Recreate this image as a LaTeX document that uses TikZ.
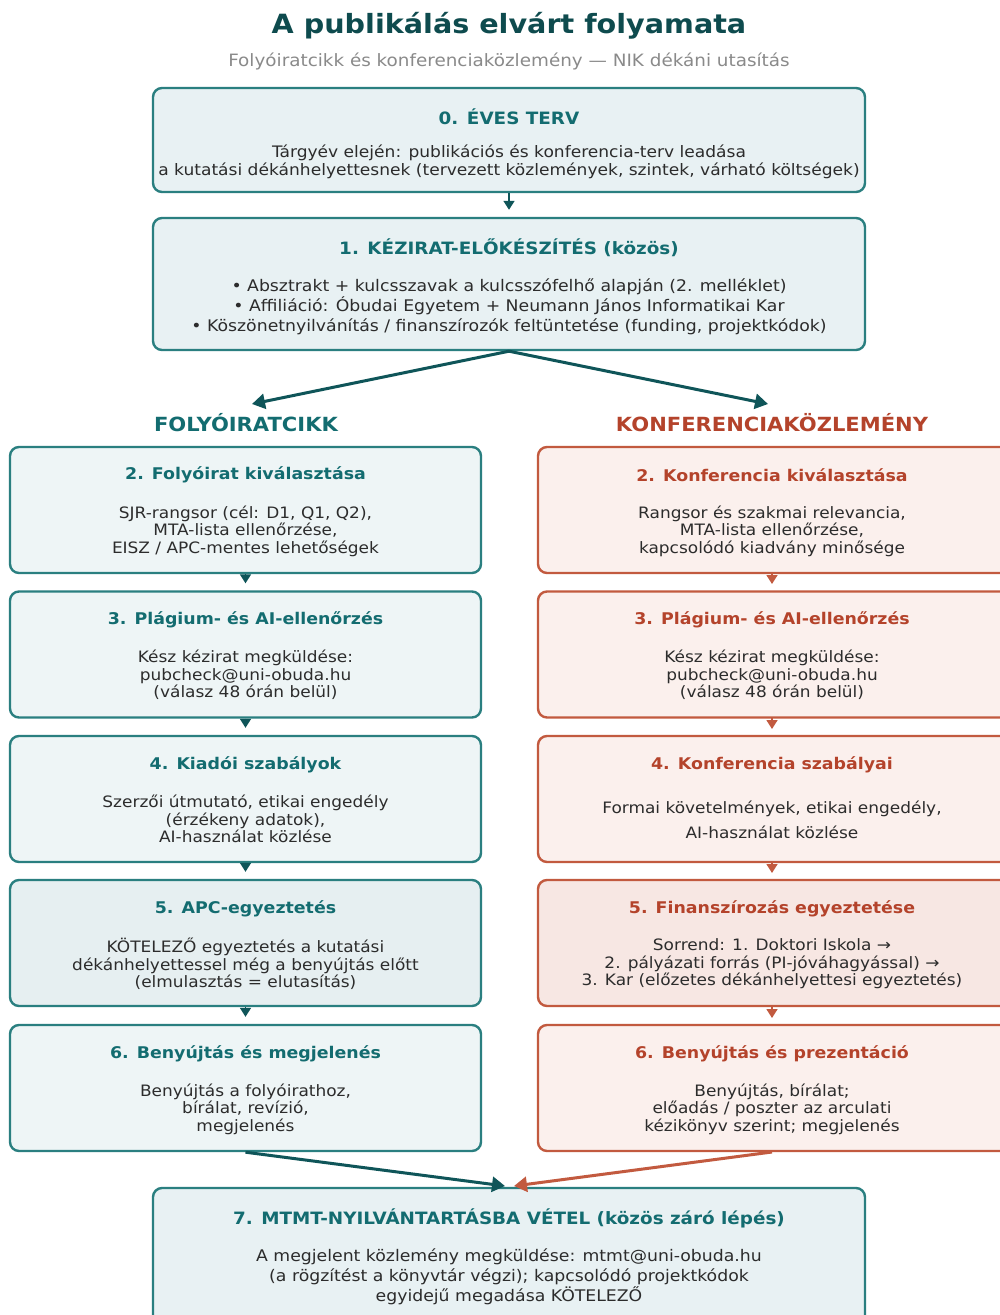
\documentclass[tikz,border=0pt]{standalone}
\usepackage{fontspec}
\setmainfont{DejaVu Sans}[FakeStretch=1.08]
\usetikzlibrary{arrows.meta}
\definecolor{tealline}{HTML}{2A7F80}
\definecolor{tealdark}{HTML}{0F5559}
\definecolor{tealtext}{HTML}{136C70}
\definecolor{titlecol}{HTML}{0E4B4E}
\definecolor{redline}{HTML}{C25A3F}
\definecolor{redtext}{HTML}{B4432B}
\definecolor{cfill}{HTML}{E8F1F3}
\definecolor{tfill}{HTML}{EEF5F6}
\definecolor{tfillb}{HTML}{E6EFF1}
\definecolor{rfill}{HTML}{FBF0ED}
\definecolor{rfillb}{HTML}{F7E7E3}
\definecolor{bodytext}{HTML}{2C2C2C}
\definecolor{subcol}{HTML}{8A8A8A}
\tikzset{
  boxbase/.style={draw, line width=2.4pt, rounded corners=9pt, inner sep=0pt},
  cbox/.style={boxbase, draw=tealline, fill=cfill, minimum width=712pt},
  lbox/.style={boxbase, draw=tealline, fill=tfill, minimum width=471pt, minimum height=126pt},
  rbox/.style={boxbase, draw=redline, fill=rfill, minimum width=471pt, minimum height=126pt},
  chead/.style={text=tealtext, font=\bfseries\fontsize{17pt}{20pt}\selectfont, inner sep=0pt},
  lhead/.style={text=tealtext, font=\bfseries\fontsize{16.1pt}{19pt}\selectfont, inner sep=0pt},
  rhead/.style={text=redtext, font=\bfseries\fontsize{16.1pt}{19pt}\selectfont, inner sep=0pt},
  cbody/.style={text=bodytext, align=center, font=\fontsize{16pt}{18.5pt}\selectfont, inner sep=0pt},
  sbody/.style={text=bodytext, align=center, font=\fontsize{15.7pt}{17.5pt}\selectfont, inner sep=0pt},
  colhead/.style={font=\bfseries\fontsize{19.5pt}{22pt}\selectfont, inner sep=0pt},
  smallarr/.style={draw=tealdark, line width=1.6pt, -{Triangle[length=9pt,width=11pt]}, shorten >=7pt},
  rsmallarr/.style={draw=redline, line width=1.6pt, -{Triangle[length=9pt,width=11pt]}, shorten >=7pt},
  bigarr/.style={draw=tealdark, line width=3pt, -{Triangle[length=13pt,width=15pt]}},
  rbigarr/.style={draw=redline, line width=3pt, -{Triangle[length=13pt,width=15pt]}},
}
\begin{document}
\begin{tikzpicture}[x=1pt,y=-1pt]
\useasboundingbox (0,0) rectangle (999,1315);
\fill[white] (0,0) rectangle (999,1315);

% Title
\node[text=titlecol, font=\bfseries\fontsize{26.5pt}{30pt}\selectfont, inner sep=0pt] (title) at (509,26) {A publikálás elvárt folyamata};
\node[text=subcol, font=\fontsize{17pt}{19pt}\selectfont, inner sep=0pt] (subtitle) at (509,61) {Folyóiratcikk és konferenciaközlemény — NIK dékáni utasítás};

% Box 0
\node[cbox, minimum height=104pt] (C0) at (509,140) {};
\node[chead] (C0h) at (509,117) {0. ÉVES TERV};
\node[cbody, font=\fontsize{15.8pt}{18.5pt}\selectfont] (C0b) at (509,162) {Tárgyév elején: publikációs és konferencia-terv leadása\\a kutatási dékánhelyettesnek (tervezett közlemények, szintek, várható költségek)};

% Box 1
\node[cbox, minimum height=132pt] (C1) at (509,284) {};
\node[chead] (C1h) at (509,248) {1. KÉZIRAT-ELŐKÉSZÍTÉS (közös)};
\node[cbody, font=\fontsize{16pt}{20pt}\selectfont] (C1b) at (509,307) {• Absztrakt + kulcsszavak a kulcsszófelhő alapján (2. melléklet)\\• Affiliáció: Óbudai Egyetem + Neumann János Informatikai Kar\\• Köszönetnyilvánítás / finanszírozók feltüntetése (funding, projektkódok)};

\draw[smallarr] (C0.south) -- (C1.north);

% Column headings
\node[colhead, text=tealtext] (LH) at (246,423) {FOLYÓIRATCIKK};
\node[colhead, text=redtext] (RH) at (772,423) {KONFERENCIAKÖZLEMÉNY};
\coordinate (LHt) at (252,404);
\coordinate (RHt) at (768,404);
\draw[bigarr] (C1.south) -- (LHt);
\draw[bigarr] (C1.south) -- (RHt);

% Left column
\node[lbox] (L2) at (245.5,510) {};
\node[lhead] (L2h) at (245.5,475) {2. Folyóirat kiválasztása};
\node[sbody] (L2b) at (245.5,531) {SJR-rangsor (cél: D1, Q1, Q2),\\MTA-lista ellenőrzése,\\EISZ / APC-mentes lehetőségek};

\node[lbox] (L3) at (245.5,654.5) {};
\node[lhead] (L3h) at (245.5,620) {3. Plágium- és AI-ellenőrzés};
\node[sbody] (L3b) at (245.5,675) {Kész kézirat megküldése:\\pubcheck@uni-obuda.hu\\(válasz 48 órán belül)};

\node[lbox] (L4) at (245.5,799) {};
\node[lhead] (L4h) at (245.5,765) {4. Kiadói szabályok};
\node[sbody] (L4b) at (245.5,819) {Szerzői útmutató, etikai engedély\\(érzékeny adatok),\\AI-használat közlése};

\node[lbox, fill=tfillb] (L5) at (245.5,943) {};
\node[lhead] (L5h) at (245.5,909) {5. APC-egyeztetés};
\node[sbody] (L5b) at (245.5,964) {KÖTELEZŐ egyeztetés a kutatási\\dékánhelyettessel még a benyújtás előtt\\(elmulasztás = elutasítás)};

\node[lbox] (L6) at (245.5,1088) {};
\node[lhead] (L6h) at (245.5,1054) {6. Benyújtás és megjelenés};
\node[sbody] (L6b) at (245.5,1109) {Benyújtás a folyóirathoz,\\bírálat, revízió,\\megjelenés};

\draw[smallarr] (L2.south) -- (L3.north);
\draw[smallarr] (L3.south) -- (L4.north);
\draw[smallarr] (L4.south) -- (L5.north);
\draw[smallarr] (L5.south) -- (L6.north);

% Right column
\node[rbox] (R2) at (773.5,510) {};
\node[rhead] (R2h) at (772,475) {2. Konferencia kiválasztása};
\node[sbody] (R2b) at (772,531) {Rangsor és szakmai relevancia,\\MTA-lista ellenőrzése,\\kapcsolódó kiadvány minősége};

\node[rbox] (R3) at (773.5,654.5) {};
\node[rhead] (R3h) at (772,620) {3. Plágium- és AI-ellenőrzés};
\node[sbody] (R3b) at (772,675) {Kész kézirat megküldése:\\pubcheck@uni-obuda.hu\\(válasz 48 órán belül)};

\node[rbox] (R4) at (773.5,799) {};
\node[rhead] (R4h) at (772,765) {4. Konferencia szabályai};
\node[sbody, font=\fontsize{15.7pt}{25pt}\selectfont] (R4b) at (772,819.5) {Formai követelmények, etikai engedély,\\AI-használat közlése};

\node[rbox, fill=rfillb] (R5) at (773.5,943) {};
\node[rhead] (R5h) at (772,909) {5. Finanszírozás egyeztetése};
\node[sbody] (R5b) at (772,964) {Sorrend: 1. Doktori Iskola →\\2. pályázati forrás (PI-jóváhagyással) →\\3. Kar (előzetes dékánhelyettesi egyeztetés)};

\node[rbox] (R6) at (773.5,1088) {};
\node[rhead] (R6h) at (772,1054) {6. Benyújtás és prezentáció};
\node[sbody] (R6b) at (772,1109) {Benyújtás, bírálat;\\előadás / poszter az arculati\\kézikönyv szerint; megjelenés};

\coordinate (R2s) at (772,573);
\coordinate (R3n) at (772,591);
\coordinate (R3s) at (772,718);
\coordinate (R4n) at (772,736);
\coordinate (R4s) at (772,862);
\coordinate (R5n) at (772,880);
\coordinate (R5s) at (772,1006);
\coordinate (R6n) at (772,1025);
\draw[rsmallarr] (R2s) -- (R3n);
\draw[rsmallarr] (R3s) -- (R4n);
\draw[rsmallarr] (R4s) -- (R5n);
\draw[rsmallarr] (R5s) -- (R6n);

% Box 7
\node[cbox, minimum height=136pt] (C7) at (509,1256) {};
\node[chead] (C7h) at (509,1218) {7. MTMT-NYILVÁNTARTÁSBA VÉTEL (közös záró lépés)};
\node[cbody, font=\fontsize{16pt}{20pt}\selectfont] (C7b) at (509,1277) {A megjelent közlemény megküldése: mtmt@uni-obuda.hu\\(a rögzítést a könyvtár végzi); kapcsolódó projektkódok\\egyidejű megadása KÖTELEZŐ};

\coordinate (C7l) at (505,1186);
\coordinate (C7r) at (514,1186);
\coordinate (R6s) at (772,1152);
\draw[bigarr] (L6.south) -- (C7l);
\draw[rbigarr] (R6s) -- (C7r);
\end{tikzpicture}
\end{document}
